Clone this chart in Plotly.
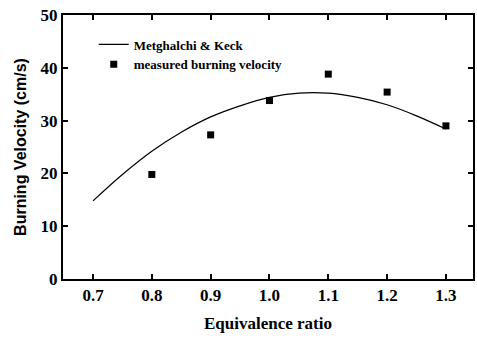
import plotly.graph_objects as go

# Model curve (Metghalchi & Keck)
curve_phi = [0.70, 0.75, 0.80, 0.85, 0.90, 0.95, 1.00, 1.05, 1.10, 1.15, 1.20, 1.25, 1.30]
curve_s = [14.8, 19.8, 24.2, 27.8, 30.7, 32.8, 34.4, 35.2, 35.2, 34.4, 33.0, 30.9, 28.4]

# Measured burning velocity
meas_phi = [0.8, 0.9, 1.0, 1.1, 1.2, 1.3]
meas_s = [19.8, 27.3, 33.8, 38.8, 35.4, 29.0]

x_ticks = [0.7, 0.8, 0.9, 1.0, 1.1, 1.2, 1.3]
x_tick_labels = ["0.7", "0.8", "0.9", "1.0", "1.1", "1.2", "1.3"]
y_ticks = [0, 10, 20, 30, 40, 50]

serif = "Liberation Serif, Times New Roman, serif"
sans = "Liberation Sans, Arial, sans-serif"

fig = go.Figure()
fig.add_trace(go.Scatter(
    x=curve_phi, y=curve_s, mode="lines", name="Metghalchi & Keck",
    line=dict(color="black", width=1.2, shape="spline"),
))
fig.add_trace(go.Scatter(
    x=meas_phi, y=meas_s, mode="markers", name="measured burning velocity",
    marker=dict(symbol="square", size=7, color="black"),
))

fig.update_layout(
    width=477, height=338,
    margin=dict(l=63, r=2, t=15, b=59),
    paper_bgcolor="white", plot_bgcolor="white",
    font=dict(family=serif, color="black"),
    legend=dict(
        x=0.075, y=0.945, xanchor="left", yanchor="top",
        bgcolor="rgba(0,0,0,0)", borderwidth=0,
        font=dict(family=serif, size=13, color="black", weight="bold"),
        tracegroupgap=0, itemwidth=30,
    ),
    xaxis=dict(
        range=[0.649, 1.346], tickvals=x_ticks, ticktext=x_tick_labels,
        ticks="inside", ticklen=5, tickwidth=1.5, tickcolor="black",
        showline=True, linecolor="black", linewidth=2, mirror="ticks",
        showgrid=False, zeroline=False,
        tickfont=dict(family=serif, size=17, color="black", weight="bold"),
        title=dict(text="Equivalence ratio", standoff=13,
                   font=dict(family=serif, size=17, color="black", weight="bold")),
    ),
    yaxis=dict(
        range=[0, 50], tickvals=y_ticks,
        ticks="inside", ticklen=5, tickwidth=1.5, tickcolor="black",
        showline=True, linecolor="black", linewidth=2, mirror="ticks",
        showgrid=False, zeroline=False,
        tickfont=dict(family=serif, size=17, color="black", weight="bold"),
        title=dict(text="Burning Velocity (cm/s)", standoff=10,
                   font=dict(family=sans, size=16, color="black", weight="bold")),
    ),
)

fig.write_html("out.html")
